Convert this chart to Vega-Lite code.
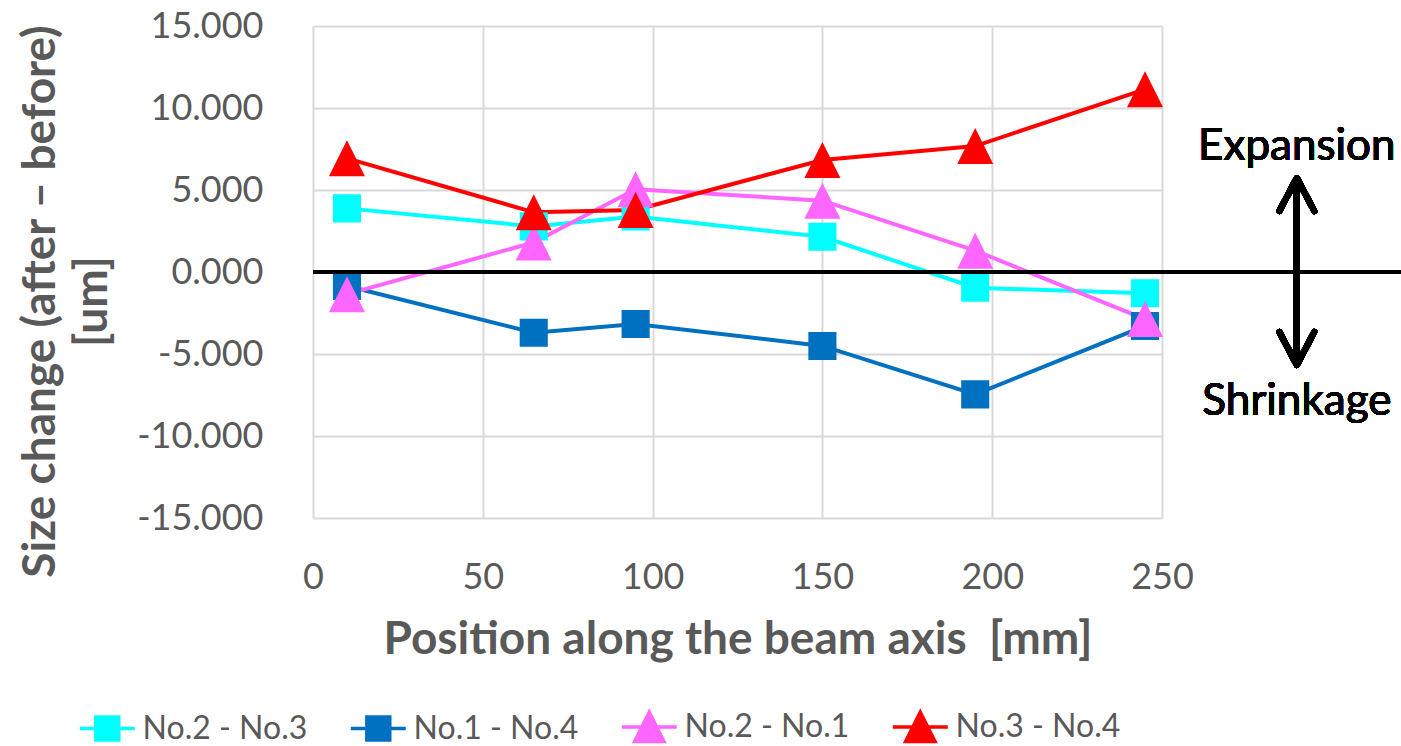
{
  "$schema": "https://vega.github.io/schema/vega-lite/v6.json",
  "width": 849,
  "height": 492,
  "autosize": {"type": "none"},
  "padding": {"left": 313, "top": 26, "right": 239, "bottom": 228},
  "background": "white",
  "config": {
    "view": {"stroke": null},
    "font": "Lato",
    "axis": {
      "labelFont": "Lato",
      "labelFontSize": 36,
      "labelColor": "#595959",
      "titleFont": "Lato",
      "titleFontWeight": "bold",
      "titleFontSize": 46,
      "titleColor": "#595959",
      "gridColor": "#d9d9d9",
      "gridWidth": 2,
      "domain": false,
      "ticks": false,
      "tickSize": 0
    }
  },
  "data": {
    "values": [
      {"pos": 10, "series": "No.2 - No.3", "change": 3.88},
      {"pos": 65, "series": "No.2 - No.3", "change": 2.78},
      {"pos": 95, "series": "No.2 - No.3", "change": 3.38},
      {"pos": 150, "series": "No.2 - No.3", "change": 2.15},
      {"pos": 195, "series": "No.2 - No.3", "change": -0.96},
      {"pos": 245, "series": "No.2 - No.3", "change": -1.3},
      {"pos": 10, "series": "No.1 - No.4", "change": -0.85},
      {"pos": 65, "series": "No.1 - No.4", "change": -3.7},
      {"pos": 95, "series": "No.1 - No.4", "change": -3.17},
      {"pos": 150, "series": "No.1 - No.4", "change": -4.51},
      {"pos": 195, "series": "No.1 - No.4", "change": -7.46},
      {"pos": 245, "series": "No.1 - No.4", "change": -3.29},
      {"pos": 10, "series": "No.2 - No.1", "change": -1.35},
      {"pos": 65, "series": "No.2 - No.1", "change": 1.8},
      {"pos": 95, "series": "No.2 - No.1", "change": 5.05},
      {"pos": 150, "series": "No.2 - No.1", "change": 4.35},
      {"pos": 195, "series": "No.2 - No.1", "change": 1.3},
      {"pos": 245, "series": "No.2 - No.1", "change": -2.87},
      {"pos": 10, "series": "No.3 - No.4", "change": 6.93},
      {"pos": 65, "series": "No.3 - No.4", "change": 3.64},
      {"pos": 95, "series": "No.3 - No.4", "change": 3.78},
      {"pos": 150, "series": "No.3 - No.4", "change": 6.83},
      {"pos": 195, "series": "No.3 - No.4", "change": 7.68},
      {"pos": 245, "series": "No.3 - No.4", "change": 11.14}
    ]
  },
  "layer": [
    {
      "mark": {"type": "line", "strokeWidth": 4},
      "encoding": {
        "x": {
          "field": "pos",
          "type": "quantitative",
          "scale": {"domain": [0, 250], "nice": false},
          "axis": {
            "values": [0, 50, 100, 150, 200, 250],
            "labelPadding": 42,
            "labelFlush": false,
            "title": "Position along the beam axis \u00a0[mm]",
            "titleY": 135,
            "titleBaseline": "alphabetic"
          }
        },
        "y": {
          "field": "change",
          "type": "quantitative",
          "scale": {"domain": [-15, 15], "nice": false},
          "axis": {
            "values": [-15, -10, -5, 0, 5, 10, 15],
            "labelExpr": "(datum.value < 0 ? '-' : '') + format(abs(datum.value), '.3f')",
            "labelPadding": 50,
            "title": ["Size change (after – before)", "[um]"],
            "titleAngle": 270,
            "titleX": -259,
            "titleY": 275,
            "titleAlign": "center",
            "titleBaseline": "alphabetic",
            "titleLineHeight": 52
          }
        },
        "stroke": {
          "field": "series",
          "type": "nominal",
          "scale": {
            "domain": ["No.2 - No.3", "No.1 - No.4", "No.2 - No.1", "No.3 - No.4"],
            "range": ["#00FFFF", "#0070C0", "#FF66FF", "#FF0000"]
          },
          "legend": {
            "title": null, "orient": "none", "direction": "horizontal", "columns": 4,
            "legendX": -222.2, "legendY": 684, "padding": 0, "symbolSize": 864,
            "symbolStrokeWidth": 3.5, "labelFont": "Lato", "labelFontSize": 32, "labelLimit": 400,
            "labelColor": "#595959", "labelOffset": 18.8, "columnPadding": 36, "gridAlign": "all"
          }
        }
      }
    },
    {
      "mark": {"type": "point", "filled": true, "opacity": 1, "size": 1296},
      "encoding": {
        "x": {"field": "pos", "type": "quantitative"},
        "y": {"field": "change", "type": "quantitative"},
        "fill": {
          "field": "series",
          "type": "nominal",
          "scale": {
            "domain": ["No.2 - No.3", "No.1 - No.4", "No.2 - No.1", "No.3 - No.4"],
            "range": ["#00FFFF", "#0070C0", "#FF66FF", "#FF0000"]
          },
          "legend": {
            "title": null, "orient": "none", "direction": "horizontal", "columns": 4,
            "legendX": -222.2, "legendY": 684, "padding": 0, "symbolSize": 864,
            "symbolStrokeWidth": 3.5, "labelFont": "Lato", "labelFontSize": 32, "labelLimit": 400,
            "labelColor": "#595959", "labelOffset": 18.8, "columnPadding": 36, "gridAlign": "all"
          }
        },
        "shape": {
          "field": "series",
          "type": "nominal",
          "scale": {
            "domain": ["No.2 - No.3", "No.1 - No.4", "No.2 - No.1", "No.3 - No.4"],
            "range": [
              "M-1.87,0H-0.78M0.78,0H1.87M-0.78,-0.78H0.78V0.78H-0.78Z",
              "M-1.87,0H-0.78M0.78,0H1.87M-0.78,-0.78H0.78V0.78H-0.78Z",
              "M-1.87,0H1.87M0,-1L1,1H-1Z",
              "M-1.87,0H1.87M0,-1L1,1H-1Z"
            ]
          },
          "legend": {
            "title": null, "orient": "none", "direction": "horizontal", "columns": 4,
            "legendX": -222.2, "legendY": 684, "padding": 0, "symbolSize": 864,
            "symbolStrokeWidth": 3.5, "labelFont": "Lato", "labelFontSize": 32, "labelLimit": 400,
            "labelColor": "#595959", "labelOffset": 18.8, "columnPadding": 36, "gridAlign": "all"
          }
        }
      }
    },
    {
      "mark": {"type": "rule", "color": "black", "strokeWidth": 3.5},
      "encoding": {
        "x": {"datum": 0},
        "x2": {"datum": 320.4},
        "y": {"datum": 0}
      }
    },
    {
      "mark": {"type": "rule", "color": "black", "strokeWidth": 6},
      "encoding": {
        "x": {"datum": 289.7},
        "y": {"datum": 5.73},
        "y2": {"datum": -5.67}
      }
    },
    {
      "mark": {"type": "point", "filled": false, "opacity": 1, "stroke": "black", "strokeWidth": 6, "strokeCap": "round", "strokeJoin": "round", "size": 1225, "shape": "M-1,1.89L0,0L1,1.89"},
      "encoding": {
        "x": {"datum": 289.7},
        "y": {"datum": 5.73}
      }
    },
    {
      "mark": {"type": "point", "filled": false, "opacity": 1, "stroke": "black", "strokeWidth": 6, "strokeCap": "round", "strokeJoin": "round", "size": 1225, "shape": "M-1,-1.89L0,0L1,-1.89"},
      "encoding": {
        "x": {"datum": 289.7},
        "y": {"datum": -5.67}
      }
    },
    {
      "mark": {"type": "text", "text": "Expansion", "font": "Lato", "fontSize": 44, "fill": "black", "align": "center", "baseline": "alphabetic"},
      "encoding": {
        "x": {"datum": 289.7},
        "y": {"datum": 6.83}
      }
    },
    {
      "mark": {"type": "text", "text": "Shrinkage", "font": "Lato", "fontSize": 44, "fill": "black", "align": "center", "baseline": "alphabetic"},
      "encoding": {
        "x": {"datum": 289.7},
        "y": {"datum": -8.72}
      }
    }
  ]
}
